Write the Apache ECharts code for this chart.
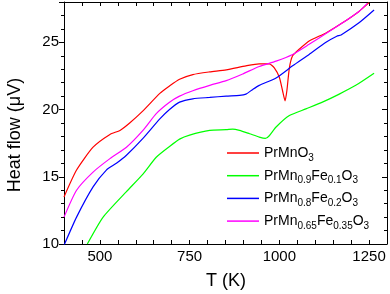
<!DOCTYPE html>
<html><head><meta charset="utf-8">
<script src="https://cdn.jsdelivr.net/npm/echarts@6/dist/echarts.min.js"></script>
<style>html,body{margin:0;padding:0;background:#fff}#c{width:390px;height:294px}</style>
</head><body><div id="c"></div>
<script>
// PrMnO3 (red)
const redT = [400,435,481,528,556,583,620,667,694,722,759,806,852,907,944,972,986,1000,1009,1016,1021,1028,1037,1056,1083,1130,1176,1222,1250];
const redV = [13.5,15.5,17.2,18.15,18.45,19.0,19.9,21.2,21.75,22.25,22.6,22.8,22.95,23.25,23.4,23.4,23.1,22.4,21.4,20.65,21.4,23.1,24.0,24.5,25.1,25.7,26.45,27.3,27.95];
// PrMn0.9Fe0.1O3 (green)
const greenT = [465,509,574,620,657,694,722,750,806,852,870,889,917,944,961,972,991,1028,1074,1120,1167,1213,1264];
const greenV = [10.0,12.0,13.9,15.2,16.45,17.25,17.8,18.1,18.45,18.5,18.55,18.45,18.2,17.95,17.85,18.05,18.7,19.55,20.05,20.55,21.15,21.8,22.7];
// PrMn0.8Fe0.2O3 (blue)
const blueT = [400,435,481,518,546,574,620,667,694,722,759,806,852,889,907,926,944,991,1037,1083,1130,1160,1172,1222,1264];
const blueV = [9.9,12.0,14.25,15.5,16.0,16.6,17.85,19.3,20.0,20.55,20.8,20.9,21.0,21.05,21.15,21.5,21.8,22.35,23.25,24.1,25.0,25.45,25.55,26.45,27.4];
// PrMn0.65Fe0.35O3 (magenta)
const magT = [400,435,481,528,574,620,657,694,722,759,806,852,898,944,991,1037,1083,1130,1176,1222,1245];
const magV = [12.0,14.0,15.35,16.35,17.2,18.45,19.7,20.55,21.0,21.4,21.8,22.15,22.65,23.2,23.6,24.1,24.85,25.65,26.45,27.3,27.9];

const names = ['PrMnO3','PrMn0.9Fe0.1O3','PrMn0.8Fe0.2O3','PrMn0.65Fe0.35O3'];
const legendRich = {
  'PrMnO3': 'PrMnO{s|3}',
  'PrMn0.9Fe0.1O3': 'PrMn{s|0.9}Fe{s|0.1}O{s|3}',
  'PrMn0.8Fe0.2O3': 'PrMn{s|0.8}Fe{s|0.2}O{s|3}',
  'PrMn0.65Fe0.35O3': 'PrMn{s|0.65}Fe{s|0.35}O{s|3}'
};
const xTicks = [500,750,1000,1250];
const yTicks = [10,15,20,25];
const xTitle = 'T (K)';
const yTitle = 'Heat flow (\u03bcV)';

const zip = (a,b) => a.map((t,i)=>[t,b[i]]);
const seriesData = [zip(redT,redV), zip(greenT,greenV), zip(blueT,blueV), zip(magT,magV)];
const colors = ['#ff0000','#00ff00','#0000ff','#ff00ff'];

const font = 'Liberation Sans, Arial, sans-serif';
function ax(extra, inside, len, mlen){
  return Object.assign({
    axisLine:{show:true,onZero:false,lineStyle:{color:'#000',width:1}},
    axisTick:{show:true,inside:inside,length:len,lineStyle:{color:'#000',width:1}},
    minorTick:{show:mlen>0,splitNumber:5,length:mlen,lineStyle:{color:'#000',width:1}},
    splitLine:{show:false}
  }, extra);
}
const chart = echarts.init(document.getElementById('c'), null, {renderer:'canvas'});
chart.setOption({
  animation:false,
  grid:{left:64,right:2,top:2,bottom:50},
  xAxis:[
    ax({type:'value',min:400,max:1300,interval:50,position:'bottom',
      axisLabel:{fontSize:15,color:'#000',fontFamily:font,margin:5,interval:0,hideOverlap:false,
        formatter:v=>xTicks.includes(v)?String(v):''}}, true, 4, 0),
    ax({type:'value',min:400,max:1300,interval:50,position:'top',axisLabel:{show:false}}, true, 4, 0)
  ],
  yAxis:[
    ax({type:'value',min:10,max:28,interval:5,position:'left',
      axisLabel:{fontSize:15,color:'#000',fontFamily:font,margin:5,
        formatter:v=>yTicks.includes(v)?String(v):''}}, false, 5, 3),
    ax({type:'value',min:10,max:28,interval:5,position:'right',axisLabel:{show:false}}, true, 5, 3)
  ],
  graphic:[
    {type:'text',x:226,y:281,style:{text:xTitle,font:'18px '+font,fill:'#000',align:'center',verticalAlign:'middle'}},
    {type:'text',x:15,y:135,rotation:Math.PI/2,style:{text:yTitle,font:'18px '+font,fill:'#000',align:'center',verticalAlign:'middle'}}
  ],
  legend:{
    orient:'vertical',left:222,top:140,padding:[3,5,3,5],itemGap:2.7,itemWidth:32,itemHeight:1.5,icon:'rect',
    data:names,
    formatter:n=>legendRich[n],
    textStyle:{fontSize:14,lineHeight:20,color:'#000',fontFamily:font,
      rich:{s:{fontSize:10,lineHeight:12,verticalAlign:'bottom',fontFamily:font,color:'#000'}}}
  },
  series:names.map((n,i)=>({
    name:n,type:'line',data:seriesData[i],showSymbol:false,smooth:0.2,clip:true,
    lineStyle:{color:colors[i],width:1.2},itemStyle:{color:colors[i]}
  }))
});
</script></body></html>
